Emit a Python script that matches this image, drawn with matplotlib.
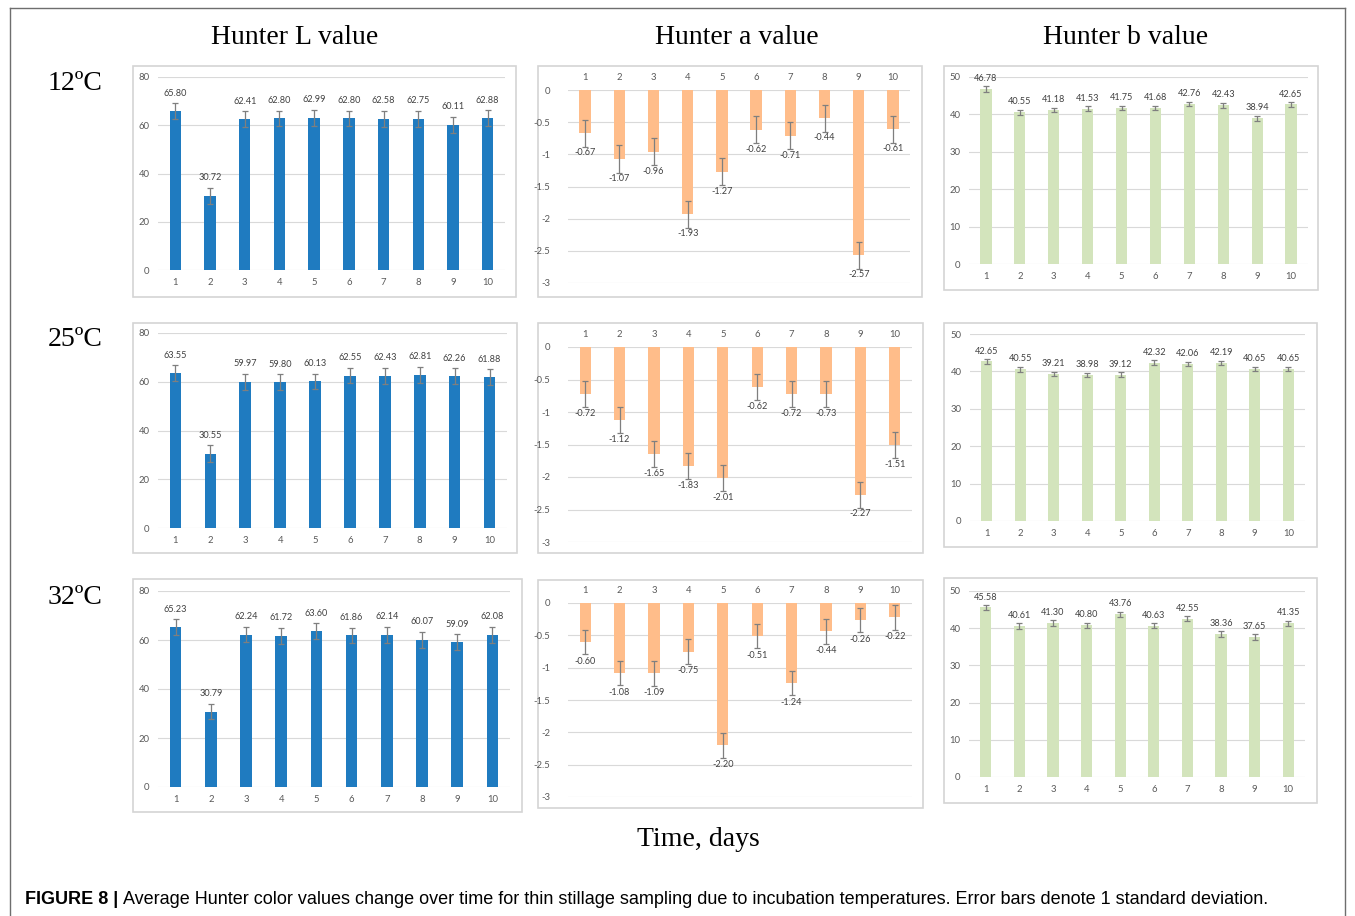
import matplotlib
matplotlib.use('Agg')
import matplotlib.pyplot as plt
from matplotlib.patches import Rectangle
from matplotlib.lines import Line2D

W, H = 1355, 916
DPI = 100

days = list(range(1, 11))
temps = ['12ºC', '25ºC', '32ºC']
titles = ['Hunter L value', 'Hunter a value', 'Hunter b value']

# Hunter L
L_12 = [65.80, 30.72, 62.41, 62.80, 62.99, 62.80, 62.58, 62.75, 60.11, 62.88]
L_25 = [63.55, 30.55, 59.97, 59.80, 60.13, 62.55, 62.43, 62.81, 62.26, 61.88]
L_32 = [65.23, 30.79, 62.24, 61.72, 63.60, 61.86, 62.14, 60.07, 59.09, 62.08]
L_12_sd = [3.4, 3.3, 3.3, 3.3, 3.3, 3.3, 3.3, 3.3, 3.3, 3.3]
L_25_sd = [3.2, 3.3, 3.2, 3.2, 3.2, 3.2, 3.3, 3.3, 3.2, 3.2]
L_32_sd = [3.2, 3.2, 3.2, 3.2, 3.2, 3.2, 3.2, 3.2, 3.2, 3.2]

# Hunter a
a_12 = [-0.67, -1.07, -0.96, -1.93, -1.27, -0.62, -0.71, -0.44, -2.57, -0.61]
a_25 = [-0.72, -1.12, -1.65, -1.83, -2.01, -0.62, -0.72, -0.73, -2.27, -1.51]
a_32 = [-0.60, -1.08, -1.09, -0.75, -2.20, -0.51, -1.24, -0.44, -0.26, -0.22]
a_12_sd = [0.21, 0.22, 0.21, 0.21, 0.21, 0.21, 0.21, 0.21, 0.21, 0.21]
a_25_sd = [0.20, 0.20, 0.20, 0.20, 0.20, 0.20, 0.20, 0.20, 0.20, 0.20]
a_32_sd = [0.19, 0.19, 0.19, 0.19, 0.19, 0.19, 0.19, 0.19, 0.19, 0.19]

# Hunter b
b_12 = [46.78, 40.55, 41.18, 41.53, 41.75, 41.68, 42.76, 42.43, 38.94, 42.65]
b_25 = [42.65, 40.55, 39.21, 38.98, 39.12, 42.32, 42.06, 42.19, 40.65, 40.65]
b_32 = [45.58, 40.61, 41.30, 40.80, 43.76, 40.63, 42.55, 38.36, 37.65, 41.35]
b_12_sd = [0.7, 0.6, 0.6, 0.7, 0.6, 0.6, 0.6, 0.6, 0.6, 0.6]
b_25_sd = [0.6, 0.6, 0.5, 0.5, 0.6, 0.6, 0.5, 0.5, 0.6, 0.6]
b_32_sd = [0.7, 0.8, 0.8, 0.7, 0.7, 0.7, 0.7, 0.8, 0.8, 0.7]

L_ticks = [0, 20, 40, 60, 80]
a_ticks = [0, -0.5, -1, -1.5, -2, -2.5, -3]
a_ticklabels = ['0', '-0.5', '-1', '-1.5', '-2', '-2.5', '-3']
b_ticks = [0, 10, 20, 30, 40, 50]

series = [[(L_12, L_12_sd), (a_12, a_12_sd), (b_12, b_12_sd)],
          [(L_25, L_25_sd), (a_25, a_25_sd), (b_25, b_25_sd)],
          [(L_32, L_32_sd), (a_32, a_32_sd), (b_32, b_32_sd)]]

colors = ['#1f7bc0', '#ffbd8a', '#d3e4bc']

# layout in pixels: plot area (x0, x1, ytop, ybottom) and frame (x0, y0, x1, y1)
areas = [[(158, 505, 77, 270), (568, 910, 90, 283), (969, 1308, 77, 264)],
         [(158, 507, 333, 528), (568, 912, 347, 542), (970, 1305, 334, 521)],
         [(158, 510, 591, 787), (568, 912, 603, 797), (969, 1305, 591, 777)]]
frames = [[(133, 66, 516, 297), (538, 66, 922, 297), (944, 66, 1318, 290)],
          [(133, 323, 517, 553), (538, 323, 923, 553), (944, 323, 1317, 547)],
          [(133, 579, 522, 812), (538, 580, 923, 808), (944, 578, 1317, 803)]]

fig = plt.figure(figsize=(W / DPI, H / DPI), dpi=DPI)
fig.patch.set_facecolor('white')

def fx(x):
    return x / W

def fy(y):
    return 1 - y / H

# outer page border
for (x0, y0, x1, y1) in [(10, 8, 1345, 8), (10, 8, 10, 916), (1345, 8, 1345, 916)]:
    fig.add_artist(Line2D([fx(x0), fx(x1)], [fy(y0), fy(y1)], color='#6e6e6e', lw=1.0))

lab_font = 'Lato'
tick_col = '#595959'
lab_col = '#404040'

for r in range(3):
    for c in range(3):
        x0, y0, x1, y1 = frames[r][c]
        fig.add_artist(Rectangle((fx(x0), fy(y1)), fx(x1) - fx(x0), fy(y0) - fy(y1),
                                 transform=fig.transFigure, facecolor='white',
                                 edgecolor='#d4d4d4', lw=1.2, zorder=0))
        ax0, ax1, at, ab = areas[r][c]
        ax = fig.add_axes([fx(ax0), fy(ab), fx(ax1) - fx(ax0), fy(at) - fy(ab)])
        ax.set_facecolor('none')
        vals, sd = series[r][c]
        ax.bar(days, vals, width=0.33, color=colors[c], zorder=2)
        ax.errorbar(days, vals, yerr=sd, fmt='none', ecolor='#7f7f7f', elinewidth=0.9,
                    capsize=2.5, capthick=0.9, zorder=3)
        ax.set_xlim(0.5, 10.5)
        for s in ax.spines.values():
            s.set_visible(False)
        ax.tick_params(length=0, labelsize=6.8, labelcolor=tick_col)
        ax.set_xticks(days)
        ax.set_xticklabels([str(d) for d in days], fontfamily=lab_font)
        ax.grid(axis='y', color='#d9d9d9', lw=0.8, zorder=0)
        ax.set_axisbelow(True)
        if c == 0:
            ax.set_ylim(0, 80)
            ax.set_yticks(L_ticks)
            ax.set_yticklabels([str(t) for t in L_ticks], fontfamily=lab_font)
            ax.tick_params(axis='y', pad=6)
            ax.tick_params(axis='x', pad=6)
            for d, v in zip(days, vals):
                ax.annotate(f'{v:.2f}', (d, v), xytext=(0, 13), textcoords='offset points',
                            ha='center', va='center', fontsize=6.6, color=lab_col,
                            fontfamily=lab_font)
        elif c == 1:
            ax.set_ylim(-3, 0)
            ax.set_yticks(a_ticks)
            ax.set_yticklabels(a_ticklabels, fontfamily=lab_font)
            ax.tick_params(axis='y', pad=13)
            ax.xaxis.tick_top()
            ax.tick_params(axis='x', pad=6)
            for d, v in zip(days, vals):
                ax.annotate(f'{v:.2f}', (d, v), xytext=(0, -14), textcoords='offset points',
                            ha='center', va='center', fontsize=6.6, color=lab_col,
                            fontfamily=lab_font)
        else:
            ax.set_ylim(0, 50)
            ax.set_yticks(b_ticks)
            ax.set_yticklabels([str(t) for t in b_ticks], fontfamily=lab_font)
            ax.tick_params(axis='y', pad=6)
            ax.tick_params(axis='x', pad=6)
            for d, v in zip(days, vals):
                ax.annotate(f'{v:.2f}', (d, v), xytext=(0, 7.5), textcoords='offset points',
                            ha='center', va='center', fontsize=6.6, color=lab_col,
                            fontfamily=lab_font)

serif = 'Liberation Serif'
for x, t in zip([295, 737, 1126], titles):
    fig.text(fx(x), fy(38), t, ha='center', va='center', fontsize=20, fontfamily=serif)
for y, t in zip([84, 340, 597], temps):
    fig.text(fx(75), fy(y), t, ha='center', va='center', fontsize=20, fontfamily=serif)
fig.text(fx(698), fy(839), 'Time, days', ha='center', va='center', fontsize=20, fontfamily=serif)

renderer = fig.canvas.get_renderer()
t1 = fig.text(fx(25), fy(899), 'FIGURE 8 |', ha='left', va='center', fontsize=13,
              fontweight='bold', fontfamily='Liberation Sans')
bb = t1.get_window_extent(renderer)
fig.text(bb.x1 / W + fx(5), fy(899),
         'Average Hunter color values change over time for thin stillage sampling due to incubation temperatures. Error bars denote 1 standard deviation.',
         ha='left', va='center', fontsize=13, fontfamily='Liberation Sans')

fig.savefig('out.png', dpi=DPI)
